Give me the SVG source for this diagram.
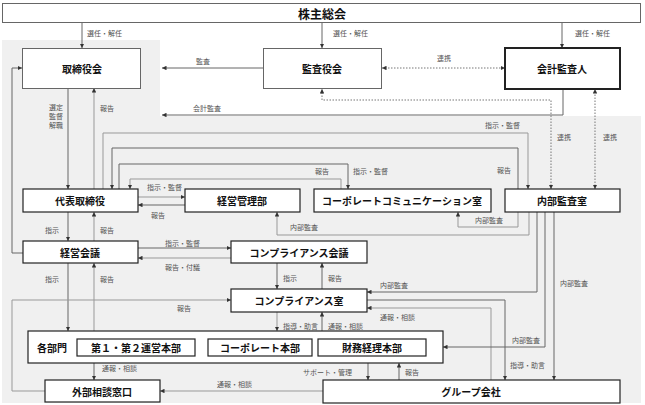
<svg xmlns="http://www.w3.org/2000/svg" width="645" height="405" viewBox="0 0 645 405">
<style>
.bg{fill:#f0f0f0}
.box{fill:#fff;stroke:#222;stroke-width:1.2}
.boxl{fill:#fff;stroke:#666;stroke-width:1}
.boxk{fill:#fff;stroke:#222;stroke-width:2}
.t{font-family:"Noto Sans CJK JP","Noto Sans",sans-serif;font-weight:bold;font-size:10px;fill:#111;text-anchor:middle;dominant-baseline:central}
.l{font-family:"Noto Sans CJK JP","Noto Sans",sans-serif;font-size:7px;fill:#555;dominant-baseline:central}
.c{fill:none;stroke:#666;stroke-width:1;marker-end:url(#a)}
.cl{fill:none;stroke:#999;stroke-width:1;marker-end:url(#a)}
.d{fill:none;stroke:#777;stroke-width:1;stroke-dasharray:1.5 1.5;marker-end:url(#a);marker-start:url(#a)}
</style>
<defs>
<marker id="a" viewBox="0 0 8 8" refX="8" refY="4" markerWidth="4.5" markerHeight="4.5" markerUnits="userSpaceOnUse" orient="auto-start-reverse">
<path d="M0,0 L8,4 L0,8 z" fill="#333"/>
</marker>
</defs>
<rect width="645" height="405" fill="#fff"/>
<rect class="bg" x="2" y="40" width="158" height="363"/>
<rect class="bg" x="160" y="116" width="481" height="287"/>

<g id="connectors">
<path class="c" d="M82,22 V48"/>
<path class="c" d="M322,22 V48"/>
<path class="c" d="M562,22 V48"/>
<path class="c" d="M263,68 H162"/>
<path class="c" d="M563,89 V115 H162"/>
<path class="d" d="M382,68 H505"/>
<path class="d" d="M551,189 V100 H322 V89"/>
<path class="d" d="M595,189 V89"/>
<path class="c" d="M68,88 V189"/>
<path class="cl" d="M94,189 V88"/>
<path class="c" d="M23,253 H12 V68 H22"/>
<path class="cl" d="M103,189 V133 H528 V189"/>
<path class="c" d="M518,189 V148 H112 V189"/>
<path class="c" d="M119,189 V164 H348 V189"/>
<path class="cl" d="M341,189 V179 H130 V189"/>
<path class="cl" d="M138,197 H185"/>
<path class="c" d="M185,205 H138"/>
<path class="cl" d="M518,212 V227 H458 V212"/>
<path class="cl" d="M529,212 V235 H277 V212"/>
<path class="c" d="M68,212 V241"/>
<path class="cl" d="M94,241 V212"/>
<path class="c" d="M138,248 H231"/>
<path class="cl" d="M231,258 H138"/>
<path class="c" d="M277,263 V289"/>
<path class="c" d="M322,289 V263"/>
<path class="c" d="M537,212 V292 H367"/>
<path class="c" d="M367,300 H505 V380"/>
<path class="cl" d="M491,380 V308 H367"/>
<path class="c" d="M545,212 V347 H443"/>
<path class="c" d="M554,212 V380"/>
<path class="c" d="M68,263 V331"/>
<path class="cl" d="M94,331 V263"/>
<path class="cl" d="M45,391 H12 V300 H231"/>
<path class="cl" d="M277,312 V331"/>
<path class="c" d="M322,331 V312"/>
<path class="c" d="M94,363 V380"/>
<path class="cl" d="M323,391 H160"/>
<path class="c" d="M368,363 V380"/>
<path class="c" d="M399,380 V363"/>
</g>

<g id="labels">
<text class="l" x="87" y="33">選任・解任</text>
<text class="l" x="333" y="33">選任・解任</text>
<text class="l" x="575" y="33">選任・解任</text>
<text class="l" x="196" y="61">監査</text>
<text class="l" x="437" y="58">連携</text>
<text class="l" x="193" y="108">会計監査</text>
<text class="l" x="49" y="107">選定</text>
<text class="l" x="49" y="116">監督</text>
<text class="l" x="49" y="125">解職</text>
<text class="l" x="100" y="108">報告</text>
<text class="l" x="557" y="137">連携</text>
<text class="l" x="603" y="137">連携</text>
<text class="l" x="485" y="125">指示・監督</text>
<text class="l" x="315" y="171">報告</text>
<text class="l" x="353" y="171">指示・監督</text>
<text class="l" x="497" y="170">報告</text>
<text class="l" x="147" y="187">指示・監督</text>
<text class="l" x="151" y="215">報告</text>
<text class="l" x="475" y="220">内部監査</text>
<text class="l" x="290" y="227">内部監査</text>
<text class="l" x="45" y="230">指示</text>
<text class="l" x="100" y="230">報告</text>
<text class="l" x="165" y="243">指示・監督</text>
<text class="l" x="165" y="267">報告・付議</text>
<text class="l" x="283" y="278">指示</text>
<text class="l" x="328" y="278">報告</text>
<text class="l" x="45" y="279">指示</text>
<text class="l" x="100" y="279">報告</text>
<text class="l" x="380" y="285">内部監査</text>
<text class="l" x="560" y="283">内部監査</text>
<text class="l" x="177" y="308">報告</text>
<text class="l" x="380" y="317">通報・相談</text>
<text class="l" x="283" y="326">指導・助言</text>
<text class="l" x="328" y="326">通報・相談</text>
<text class="l" x="512" y="340">内部監査</text>
<text class="l" x="510" y="365">指導・助言</text>
<text class="l" x="102" y="368">通報・相談</text>
<text class="l" x="303" y="372">サポート・管理</text>
<text class="l" x="405" y="372">報告</text>
<text class="l" x="217" y="384">通報・相談</text>
</g>

<g id="n-kabunushi"><rect class="boxl" x="2.5" y="3.5" width="638" height="19"/><text class="t" x="322" y="13" style="font-size:12px">株主総会</text></g>
<g id="n-torishimariyakukai"><rect class="boxl" x="22.5" y="48.5" width="118" height="40"/><text class="t" x="82" y="68">取締役会</text></g>
<g id="n-kansayakukai"><rect class="boxl" x="263.5" y="48.5" width="118" height="40"/><text class="t" x="322" y="68">監査役会</text></g>
<g id="n-kaikei"><rect class="boxk" x="505" y="48" width="115" height="41"/><text class="t" x="562" y="68">会計監査人</text></g>
<g id="n-daihyo"><rect class="box" x="23" y="189" width="115" height="23"/><text class="t" x="80" y="200.5">代表取締役</text></g>
<g id="n-keieikanri"><rect class="box" x="185" y="189" width="115" height="23"/><text class="t" x="242" y="200.5">経営管理部</text></g>
<g id="n-corpcomm"><rect class="box" x="314" y="189" width="177" height="23"/><text class="t" x="402" y="200.5">コーポレートコミュニケーション室</text></g>
<g id="n-naibukansa"><rect class="box" x="505" y="189" width="115" height="23"/><text class="t" x="562" y="200.5">内部監査室</text></g>
<g id="n-keieikaigi"><rect class="box" x="23" y="241" width="115" height="22"/><text class="t" x="80" y="252">経営会議</text></g>
<g id="n-compkaigi"><rect class="box" x="231" y="241" width="136" height="22"/><text class="t" x="299" y="252">コンプライアンス会議</text></g>
<g id="n-compshitsu"><rect class="box" x="231" y="289" width="136" height="23"/><text class="t" x="299" y="300.5">コンプライアンス室</text></g>
<g id="n-kakubumon"><rect class="box" x="28" y="331" width="415" height="32"/><text class="t" x="52" y="347">各部門</text>
<g id="n-unei"><rect class="box" x="77" y="339" width="118" height="17"/><text class="t" x="136" y="347.5">第１・第２運営本部</text></g>
<g id="n-corphonbu"><rect class="box" x="208" y="339" width="104" height="17"/><text class="t" x="260" y="347.5">コーポレート本部</text></g>
<g id="n-zaimu"><rect class="box" x="318" y="339" width="108" height="17"/><text class="t" x="372" y="347.5">財務経理本部</text></g>
</g>
<g id="n-gaibu"><rect class="box" x="45" y="380" width="115" height="22"/><text class="t" x="102" y="391">外部相談窓口</text></g>
<g id="n-group"><rect class="box" x="323" y="380" width="297" height="23"/><text class="t" x="471" y="391.5">グループ会社</text></g>
</svg>
